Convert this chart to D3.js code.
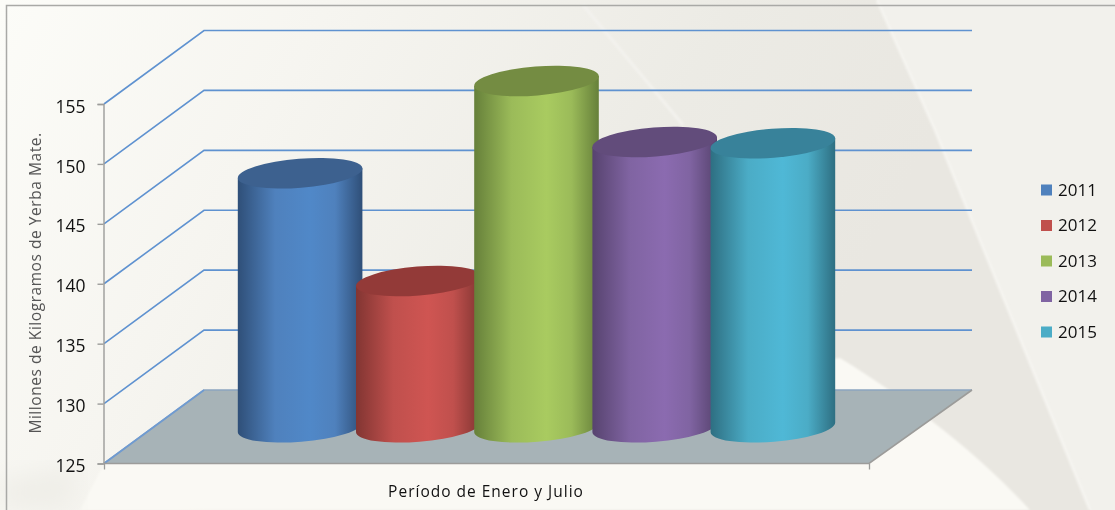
<!DOCTYPE html>
<html lang="es">
<head>
  <meta charset="UTF-8">
  <title>Yerba Mate</title>
  <script src="https://d3js.org/d3.v7.min.js"></script>
  <style>
    html, body { margin: 0; padding: 0; background: #fbfbf7; }
    svg { display: block; filter: blur(0.35px); }
    text { font-family: "Open Sans", sans-serif; }
  </style>
</head>
<body>
  <div id="chart"></div>
  <script>

    // values
    var years = ["2011", "2012", "2013", "2014", "2015"];
    var values = [146.2, 137.2, 153.9, 148.8, 148.7];
    var baseColors = ["#4f81bd", "#c0504d", "#9bbb59", "#8064a2", "#4bacc6"];
    var lightColors = ["#5088c8", "#cf5552", "#a9cb60", "#8b6bb0", "#4fb8d6"];
    var darkColors = ["#2f4f78", "#823532", "#66803a", "#57436f", "#2e6f82"];
    var topColors = ["#3d618f", "#933a38", "#748c42", "#624c7b", "#38829a"];
    var yTicks = [125, 130, 135, 140, 145, 150, 155];

    var width = 1115, height = 510;
    var svg = d3.select("#chart").append("svg")
      .attr("width", width)
      .attr("height", height);
    var defs = svg.append("defs");

    // scales
    var y = d3.scaleLinear().domain([125, 155]).range([463.5, 104]);
    var x = d3.scaleBand().domain(years).range([241, 832]).padding(0);
    var depth = { dx: 100, dy: 73.5 };
    var front = d3.scaleLinear().domain([0, 1]).range([104, 869]);

    // background
    var bg = defs.append("linearGradient").attr("id", "bg")
      .attr("x1", 0).attr("y1", 0).attr("x2", 1).attr("y2", 0.25);
    bg.append("stop").attr("offset", 0).attr("stop-color", "#fcfcf8");
    bg.append("stop").attr("offset", 0.28).attr("stop-color", "#f6f5f0");
    bg.append("stop").attr("offset", 0.62).attr("stop-color", "#ecebe5");
    bg.append("stop").attr("offset", 0.85).attr("stop-color", "#e9e7e1");
    defs.append("filter").attr("id", "soft")
      .append("feGaussianBlur").attr("stdDeviation", 12);
    defs.append("filter").attr("id", "soft2")
      .append("feGaussianBlur").attr("stdDeviation", 1.2);
    var bgLayer = svg.append("g");
    bgLayer.append("rect").attr("width", width).attr("height", height).attr("fill", "url(#bg)");
    bgLayer.append("path").attr("d", "M877,0L1115,0L1115,510L1090,510L935,130Z").attr("fill", "#f2f1ec");
    bgLayer.append("path").attr("d", "M80,510L105,462L840,358C900,395 970,445 1030,510Z")
      .attr("fill", "#faf9f4").attr("filter", "url(#soft2)");
    bgLayer.append("path").attr("d", "M0,510L0,480L80,465L70,510Z")
      .attr("fill", "#efeee8").attr("filter", "url(#soft)");
    bgLayer.append("path").attr("d", "M877,0L935,130L1090,510").attr("fill", "none")
      .attr("stroke", "#f6f5f1").attr("stroke-width", 2.5).attr("filter", "url(#soft2)");
    bgLayer.append("path").attr("d", "M583,5L683,125").attr("fill", "none")
      .attr("stroke", "#f3f2ee").attr("stroke-width", 3).attr("filter", "url(#soft2)");
    svg.append("path").attr("d", "M6.5,510V5.5H1115").attr("fill", "none")
      .attr("stroke", "#a9a9a6").attr("stroke-width", 1.5);

    var plot = svg.append("g");

    // floor
    plot.append("path")
      .attr("d", d3.line()([
        [front(0), y(125)],
        [front(0) + depth.dx, y(125) - depth.dy],
        [front(1) + depth.dx + 3, y(125) - depth.dy],
        [front(1), y(125)]
      ]) + "Z")
      .attr("fill", "#a7b3b7");

    // grid lines on the two back walls
    plot.selectAll(".grid").data(yTicks).enter().append("path")
      .attr("class", "grid")
      .attr("fill", "none")
      .attr("stroke", function (d) { return d === 125 ? "#8ca5c0" : "#5f92d0"; })
      .attr("stroke-width", 1.6)
      .attr("d", function (d) {
        return d3.line()([
          [front(0), y(d)],
          [front(0) + depth.dx, y(d) - depth.dy],
          [front(1) + depth.dx + 3, y(d) - depth.dy]
        ]);
      });
    plot.append("path")
      .attr("d", d3.line()([
        [front(0), y(125)],
        [front(0) + depth.dx, y(125) - depth.dy]
      ]))
      .attr("fill", "none").attr("stroke", "#6f9bd1").attr("stroke-width", 1.6);

    // floor front and side edges
    plot.append("path")
      .attr("d", d3.line()([
        [front(0), y(125)],
        [front(1), y(125)],
        [front(1) + depth.dx + 3, y(125) - depth.dy]
      ]))
      .attr("fill", "none").attr("stroke", "#9c9c9a").attr("stroke-width", 1.6);

    // axes
    var yAxis = svg.append("g")
      .attr("transform", "translate(103.5,0)")
      .call(d3.axisLeft(y).tickValues(yTicks).tickSize(6).tickPadding(12));
    yAxis.selectAll("path, line").attr("stroke", "#9c9c9a").attr("stroke-width", 1.4);
    yAxis.selectAll("text")
      .attr("y", 2.5)
      .attr("fill", "#111").attr("font-size", 17.5)
      .style("font-family", '"Open Sans", sans-serif');

    var xAxis = svg.append("g")
      .attr("transform", "translate(0," + y(125) + ")")
      .call(d3.axisBottom(front).tickValues([0, 1]).tickSize(6).tickFormat(""));
    xAxis.select("path").remove();
    xAxis.selectAll("line").attr("stroke", "#9c9c9a").attr("stroke-width", 1.3);

    // cylinders, drawn left to right so each overlaps the one before
    var rx = 62.5, ry = 14.5, tilt = -4.6;
    var tiltRad = tilt * Math.PI / 180;
    var ex = rx * Math.cos(tiltRad), ey = rx * Math.sin(tiltRad);
    var zMid = depth.dy / 2 - 0.5;

    years.forEach(function (yr, i) {
      var g = defs.append("linearGradient").attr("id", "cyl" + i);
      g.append("stop").attr("offset", 0).attr("stop-color", darkColors[i]);
      g.append("stop").attr("offset", 0.3).attr("stop-color", baseColors[i]);
      g.append("stop").attr("offset", 0.58).attr("stop-color", lightColors[i]);
      g.append("stop").attr("offset", 0.78).attr("stop-color", baseColors[i]);
      g.append("stop").attr("offset", 1).attr("stop-color", darkColors[i]);
    });

    var cyl = plot.selectAll(".cyl").data(years).enter().append("g").attr("class", "cyl");
    cyl.append("path")
      .attr("fill", function (d, i) { return "url(#cyl" + i + ")"; })
      .attr("d", function (d, i) {
        var cx = x(d) + x.bandwidth() / 2;
        var top = y(values[i]) - zMid, bot = y(125) - zMid;
        return "M" + (cx - ex) + "," + (top - ey) +
          "L" + (cx - ex) + "," + (bot - ey) +
          "A" + rx + "," + ry + " " + tilt + " 0 0 " + (cx + ex) + "," + (bot + ey) +
          "L" + (cx + ex) + "," + (top + ey) + "Z";
      });
    cyl.append("ellipse")
      .attr("fill", function (d, i) { return topColors[i]; })
      .attr("rx", rx).attr("ry", ry)
      .attr("transform", function (d, i) {
        var cx = x(d) + x.bandwidth() / 2;
        return "translate(" + cx + "," + (y(values[i]) - zMid) + ") rotate(" + tilt + ")";
      });

    // axis titles
    svg.append("text")
      .attr("transform", "translate(40.5,283) rotate(-90)")
      .attr("text-anchor", "middle")
      .attr("fill", "#555")
      .attr("font-size", 15.5)
      .attr("letter-spacing", 0.55)
      .text("Millones de Kilogramos de Yerba Mate.");
    svg.append("text")
      .attr("x", 486).attr("y", 497)
      .attr("text-anchor", "middle")
      .attr("fill", "#111")
      .attr("font-size", 15.5)
      .attr("letter-spacing", 1)
      .text("Período de Enero y Julio");

    // legend
    var legendY = d3.scalePoint().domain(years).range([190, 332]);
    var legend = svg.selectAll(".legend").data(years).enter().append("g")
      .attr("class", "legend")
      .attr("transform", function (d) { return "translate(1041," + legendY(d) + ")"; });
    legend.append("rect")
      .attr("y", -5.5).attr("width", 11).attr("height", 11)
      .attr("fill", function (d, i) { return baseColors[i]; });
    legend.append("text")
      .attr("x", 17).attr("dy", "0.34em")
      .attr("fill", "#111").attr("font-size", 17)
      .text(function (d) { return d; });

  </script>
</body>
</html>
